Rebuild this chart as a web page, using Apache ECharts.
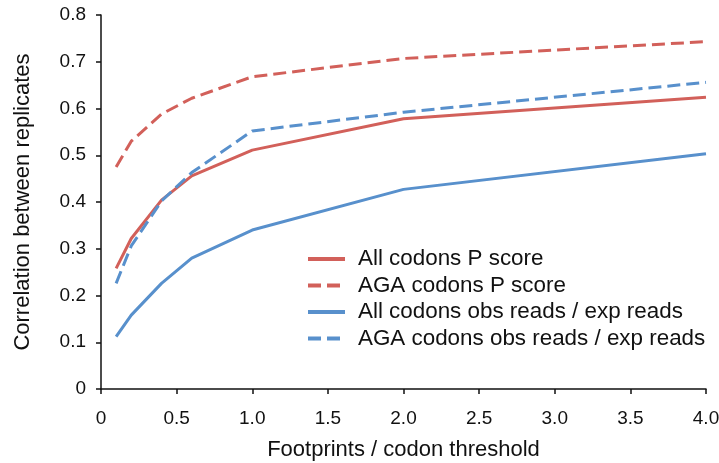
<!DOCTYPE html>
<html>
<head>
<meta charset="utf-8">
<script src="https://cdn.jsdelivr.net/npm/echarts@6/dist/echarts.min.js"></script>
<style>
html,body{margin:0;padding:0;background:#fff;}
#chart{width:719px;height:463px;}
</style>
</head>
<body>
<div id="chart"></div>
<script>
var thresholds = [0.1, 0.2, 0.4, 0.6, 1.0, 2.0, 4.0];
var allCodonsP = [0.258, 0.322, 0.404, 0.456, 0.511, 0.578, 0.624];
var agaCodonsP = [0.475, 0.530, 0.588, 0.622, 0.668, 0.707, 0.743];
var allCodonsObsExp = [0.112, 0.158, 0.226, 0.280, 0.340, 0.427, 0.503];
var agaCodonsObsExp = [0.226, 0.306, 0.402, 0.463, 0.552, 0.592, 0.656];
var seriesNames = ['All codons P score', 'AGA codons P score', 'All codons obs reads / exp reads', 'AGA codons obs reads / exp reads'];

var RED = '#d2605a', BLUE = '#5890cc';
var FONT = 'Liberation Sans, Arial, sans-serif';
function pairs(ys){ return thresholds.map(function(x,i){ return [x, ys[i]]; }); }
function mk(name, ys, color, dashed){
  return {
    name: name, type: 'line', data: pairs(ys), symbol: 'none', smooth: false,
    lineStyle: { color: color, width: 3, type: dashed ? [13, 6] : 'solid' },
    itemStyle: { color: color }
  };
}
var chart = echarts.init(document.getElementById('chart'));
chart.setOption({
  animation: false,
  backgroundColor: '#fff',
  grid: { left: 101, right: 13, top: 15, bottom: 74, containLabel: false, outerBoundsMode: 'none' },
  legend: {
    orient: 'vertical', left: 301, top: 243,
    itemWidth: 37, itemHeight: 14, itemGap: 4.5,
    itemStyle: { opacity: 0 },
    lineStyle: { width: 4 },
    textStyle: { fontFamily: FONT, fontSize: 22.4, lineHeight: 20, color: '#111', padding: [0, 0, 0, 8] },
    data: seriesNames
  },
  xAxis: {
    type: 'value', min: 0, max: 4, interval: 0.5,
    name: 'Footprints / codon threshold', nameLocation: 'middle', nameGap: 50,
    nameTextStyle: { fontFamily: FONT, fontSize: 22, color: '#111' },
    axisLine: { show: true, lineStyle: { color: '#111', width: 1.5 } },
    axisTick: { show: true, length: 5, lineStyle: { color: '#111', width: 1.5 } },
    axisLabel: { fontFamily: FONT, fontSize: 19, color: '#111', margin: 20,
      formatter: function(v){ return v === 0 ? '0' : v.toFixed(1); } },
    splitLine: { show: false }
  },
  yAxis: {
    type: 'value', min: 0, max: 0.8, interval: 0.1,
    name: 'Correlation between replicates', nameLocation: 'middle', nameGap: 67,
    nameTextStyle: { fontFamily: FONT, fontSize: 22, color: '#111' },
    axisLine: { show: true, lineStyle: { color: '#111', width: 1.5 } },
    axisTick: { show: true, length: 5, lineStyle: { color: '#111', width: 1.5 } },
    axisLabel: { fontFamily: FONT, fontSize: 19, color: '#111', margin: 15,
      formatter: function(v){ return v === 0 ? '0' : v.toFixed(1); } },
    splitLine: { show: false }
  },
  series: [
    mk(seriesNames[0], allCodonsP, RED, false),
    mk(seriesNames[1], agaCodonsP, RED, true),
    mk(seriesNames[2], allCodonsObsExp, BLUE, false),
    mk(seriesNames[3], agaCodonsObsExp, BLUE, true)
  ]
});
</script>
</body>
</html>
